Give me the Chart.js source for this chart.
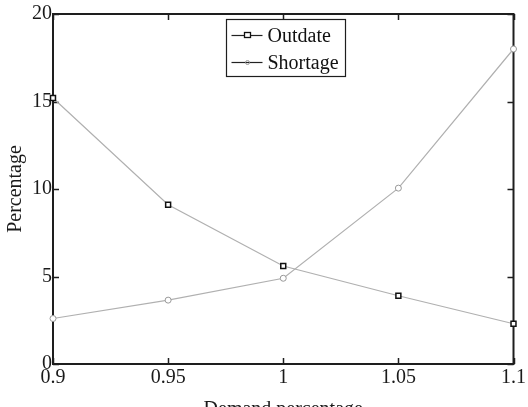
<!DOCTYPE html>
<html><head><meta charset="utf-8">
<script src="https://cdn.jsdelivr.net/npm/chart.js@4/dist/chart.umd.min.js"></script>
<style>html,body{margin:0;padding:0;background:#fff}#w{width:528px;height:407px}</style>
</head><body><div id="w"><canvas id="c" width="528" height="407"></canvas></div>
<script>
const demand = [0.9, 0.95, 1.0, 1.05, 1.1];
const outdate = [15.2, 9.1, 5.6, 3.9, 2.3];
const shortage = [2.6, 3.65, 4.9, 10.05, 18.0];
const xTicks = [0.9, 0.95, 1, 1.05, 1.1];
const yTicks = [0, 5, 10, 15, 20];
const seriesNames = ['Outdate', 'Shortage'];

const FONT = 'Liberation Serif, Times New Roman, serif';
const AX = '#1e1e1e';

const boxPlugin = {
  id: 'box',
  beforeDatasetsDraw(chart) {
    const {ctx, chartArea: a, scales} = chart;
    ctx.save();
    ctx.strokeStyle = AX;
    ctx.lineWidth = 2;
    ctx.strokeRect(a.left, a.top, a.right - a.left, a.bottom - a.top);
    ctx.lineWidth = 1.5;
    const tl = 6;
    ctx.beginPath();
    scales.x.ticks.forEach(t => {
      const px = Math.round(scales.x.getPixelForValue(t.value)) + 0.5;
      ctx.moveTo(px, a.bottom); ctx.lineTo(px, a.bottom - tl);
      ctx.moveTo(px, a.top); ctx.lineTo(px, a.top + tl);
    });
    scales.y.ticks.forEach(t => {
      const py = Math.round(scales.y.getPixelForValue(t.value)) + 0.5;
      ctx.moveTo(a.left, py); ctx.lineTo(a.left + tl, py);
      ctx.moveTo(a.right, py); ctx.lineTo(a.right - tl, py);
    });
    ctx.stroke();
    ctx.restore();
  },
  afterDatasetsDraw(chart) {
    const {ctx, chartArea: a} = chart;
    const w = 119, h = 57;
    const bx = Math.round((a.left + a.right) / 2 - w / 2 + 2) + 0.5;
    const by = a.top + 5.5;
    ctx.save();
    ctx.fillStyle = '#fff';
    ctx.fillRect(bx, by, w, h);
    ctx.strokeStyle = AX;
    ctx.lineWidth = 1.2;
    ctx.strokeRect(bx, by, w, h);
    ctx.font = '20px ' + FONT;
    ctx.textBaseline = 'middle';
    ctx.fillStyle = '#111';
    chart.data.datasets.forEach((ds, i) => {
      const ry = by + 16 + i * 27;
      ctx.strokeStyle = '#222';
      ctx.lineWidth = 1.2;
      ctx.beginPath();
      ctx.moveTo(bx + 5, ry); ctx.lineTo(bx + 36, ry);
      ctx.stroke();
      const mx = bx + 21;
      if (i === 0) {
        ctx.fillStyle = '#fff';
        ctx.fillRect(mx - 3, ry - 3, 6, 5);
        ctx.strokeStyle = '#111';
        ctx.lineWidth = 1.3;
        ctx.strokeRect(mx - 3, ry - 3, 6, 5);
      } else {
        ctx.strokeStyle = '#999';
        ctx.lineWidth = 1;
        ctx.beginPath(); ctx.arc(mx, ry, 2, 0, Math.PI * 2); ctx.stroke();
      }
      ctx.fillStyle = '#111';
      ctx.fillText(ds.label, bx + 41, ry + 1);
    });
    ctx.restore();
  }
};

new Chart(document.getElementById('c'), {
  type: 'line',
  data: {
    datasets: [
      {
        label: seriesNames[0],
        data: demand.map((x, i) => ({x, y: outdate[i]})),
        borderColor: '#b0b0b0', borderWidth: 1.2,
        pointStyle: 'rect', pointRadius: 3.5,
        pointBackgroundColor: '#fff', pointBorderColor: '#111', pointBorderWidth: 1.5,
        tension: 0, clip: false
      },
      {
        label: seriesNames[1],
        data: demand.map((x, i) => ({x, y: shortage[i]})),
        borderColor: '#b0b0b0', borderWidth: 1.2,
        pointStyle: 'circle', pointRadius: 3,
        pointBackgroundColor: '#fff', pointBorderColor: '#999', pointBorderWidth: 1,
        tension: 0, clip: false
      }
    ]
  },
  options: {
    responsive: false,
    animation: false,
    devicePixelRatio: 1,
    layout: {padding: {top: 14, right: 10, left: 0, bottom: 0}},
    plugins: {legend: {display: false}, tooltip: {enabled: false}},
    scales: {
      x: {
        type: 'linear', min: 0.9, max: 1.1,
        afterBuildTicks: s => { s.ticks = xTicks.map(v => ({value: v})); },
        afterFit: s => { s.height = 43; },
        grid: {display: false, drawTicks: false},
        border: {display: false},
        ticks: {font: {family: FONT, size: 20}, color: '#1a1a1a', padding: 2,
                callback: v => String(v), maxRotation: 0, autoSkip: false},
        title: {display: true, text: 'Demand percentage', font: {family: FONT, size: 20},
                color: '#1a1a1a', padding: {top: 0, bottom: -15}}
      },
      y: {
        type: 'linear', min: 0, max: 20,
        afterBuildTicks: s => { s.ticks = yTicks.map(v => ({value: v})); },
        afterFit: s => { s.width = 53; },
        grid: {display: false, drawTicks: false},
        border: {display: false},
        ticks: {font: {family: FONT, size: 20}, color: '#1a1a1a', padding: 1,
                callback: v => String(v), autoSkip: false},
        title: {display: true, text: 'Percentage', font: {family: FONT, size: 20},
                color: '#1a1a1a', padding: {top: 4, bottom: 0}}
      }
    }
  },
  plugins: [boxPlugin]
});
</script>
</body></html>
